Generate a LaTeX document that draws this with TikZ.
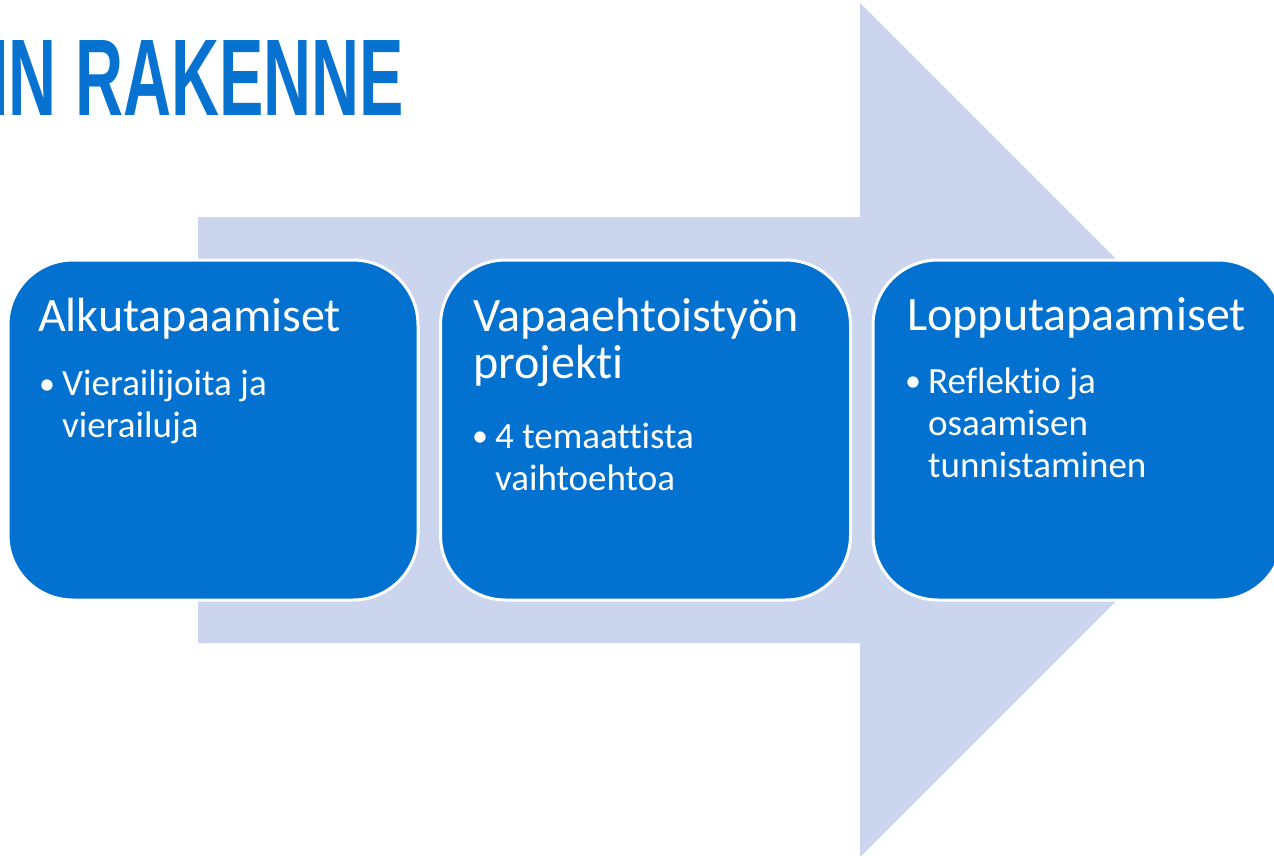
\documentclass[tikz,border=0pt]{standalone}
\usepackage{fontspec}
\setmainfont[Ligatures={NoCommon}]{Carlito}
\newfontfamily\titlefont{Liberation Sans}
\usepackage{xcolor}
\usepackage{tikz}

\definecolor{stageblue}{HTML}{0271CF}
\definecolor{arrowlilac}{HTML}{CBD5ED}
\definecolor{titleblue}{HTML}{0872D0}

\tikzset{
    stagebox/.style={draw=white, line width=3pt, fill=stageblue, rounded corners=65pt,
        minimum width=410pt, minimum height=340pt, inner sep=0pt},
    stagehead/.style={text=white, inner sep=0pt, anchor=base west, align=left,
        font=\fontsize{48}{47}\selectfont},
    stageitem/.style={text=white, inner sep=0pt, anchor=base west, align=left,
        font=\fontsize{37}{42}\selectfont},
    stagedot/.style={text=white, inner sep=0pt, anchor=base west,
        font=\fontsize{32}{32}\selectfont},
}

\begin{document}
\begin{tikzpicture}[x=1pt, y=-1pt]

    \useasboundingbox (0,0) rectangle (1274,855);

    \fill[arrowlilac] (198,217) -- (860,217) -- (860,3) -- (1287,430)
        -- (860,857) -- (860,643) -- (198,643) -- cycle;

    \node[text=titleblue, inner sep=0pt, anchor=base west,
        font=\titlefont\bfseries\fontsize{109}{109}\selectfont]
        (title) at (-10,115) {\scalebox{0.61}[1]{IN RAKENNE}};

    \node[stagebox] (alku) at (213,430) {};
    \node[stagebox] (projekti) at (645.5,430) {};
    \node[stagebox] (loppu) at (1078,430) {};

    \node[stagehead] (alkuHead) at (38,331) {Alkutapaamiset};
    \node[stagedot] (alkuDot) at (39,394) {•};
    \node[stageitem] (alkuItem) at (62,437) {Vierailijoita ja\\vierailuja};

    \node[stagehead] (projektiHead) at (473,378) {Vapaaehtoistyön\\projekti};
    \node[stagedot] (projektiDot) at (472,446) {•};
    \node[stageitem] (projektiItem) at (495,490) {4 temaattista\\vaihtoehtoa};

    \node[stagehead] (loppuHead) at (907,330) {Lopputapaamiset};
    \node[stagedot] (loppuDot) at (905,391) {•};
    \node[stageitem] (loppuItem) at (928,477) {Reflektio ja\\osaamisen\\tunnistaminen};
  \end{tikzpicture}
\end{document}
